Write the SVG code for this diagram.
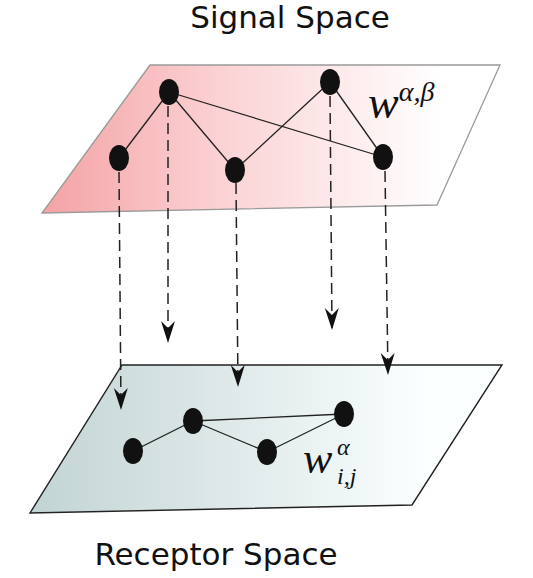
<svg xmlns="http://www.w3.org/2000/svg" width="533" height="578" viewBox="0 0 533 578">
<defs>
<linearGradient id="gTop" gradientUnits="userSpaceOnUse" x1="42" y1="0" x2="440" y2="0">
<stop offset="0" stop-color="#f4a2a5"/>
<stop offset="0.45" stop-color="#fbd2d4"/>
<stop offset="1" stop-color="#ffffff"/>
</linearGradient>
<linearGradient id="gBot" gradientUnits="userSpaceOnUse" x1="30" y1="0" x2="430" y2="0">
<stop offset="0" stop-color="#c1d4d3"/>
<stop offset="0.5" stop-color="#dfe9e9"/>
<stop offset="1" stop-color="#fbffff"/>
</linearGradient>
<marker id="arr" markerUnits="userSpaceOnUse" markerWidth="26" markerHeight="18" viewBox="-24 -9 26 18" refX="0" refY="0" orient="auto">
<path d="M0,0 L-22,-7 L-15,0 L-22,7 Z" fill="#111"/>
</marker>
<style>
.lbl{font-family:"DejaVu Sans",sans-serif;font-size:31px;fill:#111}
.math{font-family:"Liberation Serif",serif;font-style:italic;fill:#111}
.node{fill:#111}
.edge{stroke:#222;stroke-width:1.3;fill:none}
.dash{stroke:#222;stroke-width:1.5;stroke-dasharray:11 6;fill:none;marker-end:url(#arr)}
</style>
</defs>
<rect width="533" height="578" fill="#fff"/>
<text class="lbl" x="290" y="28" text-anchor="middle">Signal Space</text>
<text class="lbl" x="216" y="565" text-anchor="middle">Receptor Space</text>
<g id="topPlane">
<polygon points="150,65 500,65 437,205 42,213" fill="url(#gTop)" stroke="#9a9a9a" stroke-width="1.3"/>
</g>
<g id="bottomPlane">
<polygon points="122,365 502,365 412,505 30,513" fill="url(#gBot)" stroke="#222" stroke-width="1.4"/>
</g>
<g id="connectors">
<path class="dash" d="M119,172 L121,410"/>
<path class="dash" d="M168,106 L168,343"/>
<path class="dash" d="M236,183 L238,387"/>
<path class="dash" d="M330,96 L332,330"/>
<path class="dash" d="M385,171 L388,375"/>
<path class="edge" d="M169,92 L119,158"/>
<path class="edge" d="M169,92 L235,170"/>
<path class="edge" d="M169,92 L383,157"/>
<path class="edge" d="M235,170 L330,82" stroke-width="1.8"/>
<path class="edge" d="M330,82 L383,157"/>
<path class="edge" d="M133,451 L193,421"/>
<path class="edge" d="M193,421 L344,414"/>
<path class="edge" d="M193,421 L267,452"/>
<path class="edge" d="M267,452 L344,414"/>
</g>
<g id="sA"><ellipse class="node" cx="169" cy="92" rx="10" ry="13"/></g>
<g id="sB"><ellipse class="node" cx="119" cy="158" rx="10" ry="13"/></g>
<g id="sC"><ellipse class="node" cx="235" cy="170" rx="10" ry="13"/></g>
<g id="sD"><ellipse class="node" cx="330" cy="82" rx="10" ry="13"/></g>
<g id="sE"><ellipse class="node" cx="383" cy="157" rx="10" ry="13"/></g>
<g id="rP"><ellipse class="node" cx="133" cy="451" rx="10" ry="13"/></g>
<g id="rQ"><ellipse class="node" cx="193" cy="421" rx="10" ry="13"/></g>
<g id="rR"><ellipse class="node" cx="267" cy="452" rx="10" ry="13"/></g>
<g id="rS"><ellipse class="node" cx="344" cy="414" rx="10" ry="13"/></g>
<g id="labelTop">
<text class="math" x="368" y="118" font-size="46">w<tspan font-size="28" dy="-17">α,β</tspan></text>
</g>
<g id="labelBottom">
<text class="math" x="303" y="473" font-size="44">w</text>
<text class="math" x="337" y="455" font-size="24">α</text>
<text class="math" x="337" y="484" font-size="24">i,j</text>
</g>
</svg>
